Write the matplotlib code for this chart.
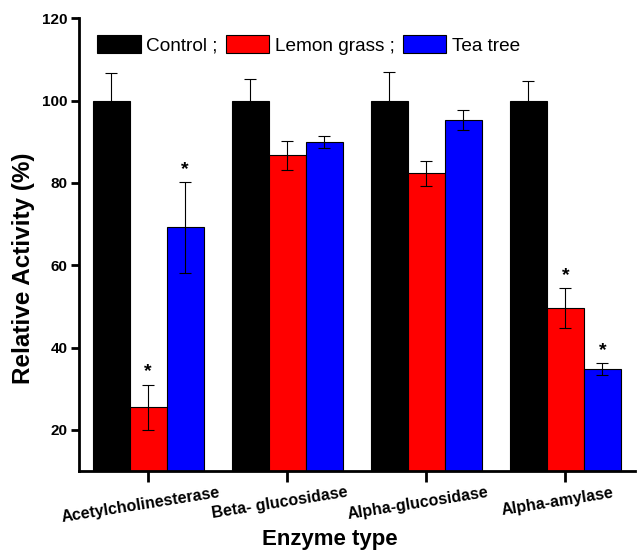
import numpy as np
import matplotlib.pyplot as plt
import matplotlib.transforms as mtransforms

plt.rcParams['font.family'] = ['Liberation Sans', 'DejaVu Sans']

enzymes = ["Acetylcholinesterase", "Beta- glucosidase", "Alpha-glucosidase", "Alpha-amylase"]
control = [100, 100, 100, 100]
control_err = [6.8, 5.2, 7.0, 4.8]
lemon = [25.5, 86.7, 82.3, 49.6]
lemon_err = [5.5, 3.5, 3.0, 4.9]
tea = [69.2, 90.0, 95.2, 34.8]
tea_err = [11.0, 1.5, 2.4, 1.4]
lemon_sig = [True, False, False, True]
tea_sig = [True, False, False, True]


def main():
    fig = plt.figure(figsize=(6.4, 5.53), dpi=100)
    ax = fig.add_axes([0.123, 0.148, 0.869, 0.819])

    x = np.arange(len(enzymes))
    w = 0.266
    series = [
        (control, control_err, "black", "Control ;", [False] * 4),
        (lemon, lemon_err, "#ff0000", "Lemon grass ;", lemon_sig),
        (tea, tea_err, "#0000ff", "Tea tree", tea_sig),
    ]
    for i, (vals, errs, col, lab, sig) in enumerate(series):
        pos = x + (i - 1) * w
        ax.bar(pos, vals, w, color=col, edgecolor="black", linewidth=0.8,
               label=lab, yerr=errs, capsize=4,
               error_kw=dict(ecolor="black", elinewidth=0.8, capthick=0.8))
        for p, v, e, s in zip(pos, vals, errs, sig):
            if s:
                ax.text(p, v + e + 1.0, "*", ha="center", va="bottom",
                        fontsize=14, fontweight="bold")

    ax.set_xlim(-0.5, 3.5)
    ax.set_ylim(10, 120)
    ax.set_yticks([20, 40, 60, 80, 100, 120])
    ax.set_xticks(x)
    ax.set_xticklabels([])
    # slanted category labels, nudged a little left as in the original
    trans = ax.get_xaxis_transform() + mtransforms.ScaledTranslation(
        -8 / 100, -14 / 100, fig.dpi_scale_trans)
    for xi, name in zip(x, enzymes):
        ax.text(xi, 0, name, transform=trans, rotation=9, ha="center",
                va="top", fontsize=11.5, fontweight="bold")
    for t in ax.get_yticklabels():
        t.set_fontweight("bold")
        t.set_fontsize(11)
    ax.spines["top"].set_visible(False)
    ax.spines["right"].set_visible(False)
    ax.spines["left"].set_linewidth(2)
    ax.spines["bottom"].set_linewidth(2)
    ax.tick_params(axis="y", width=2, length=6, pad=2)
    ax.tick_params(axis="x", width=2, length=8, pad=6)

    ax.set_xlabel("Enzyme type", fontsize=16, fontweight="bold")
    ax.set_ylabel("Relative Activity (%)", fontsize=17.5, fontweight="bold")
    ax.xaxis.set_label_coords(0.451, -0.127)
    ax.yaxis.set_label_coords(-0.079, 0.448)

    ax.legend(loc="center left", bbox_to_anchor=(97 / 640, 1 - 45 / 553),
              bbox_transform=fig.transFigure, ncol=3, frameon=False,
              fontsize=13.7, handlelength=2.3, handleheight=1.0,
              handletextpad=0.3, columnspacing=0.4, borderpad=0,
              borderaxespad=0)

    fig.savefig("out.png", dpi=100)


if __name__ == "__main__":
    main()
